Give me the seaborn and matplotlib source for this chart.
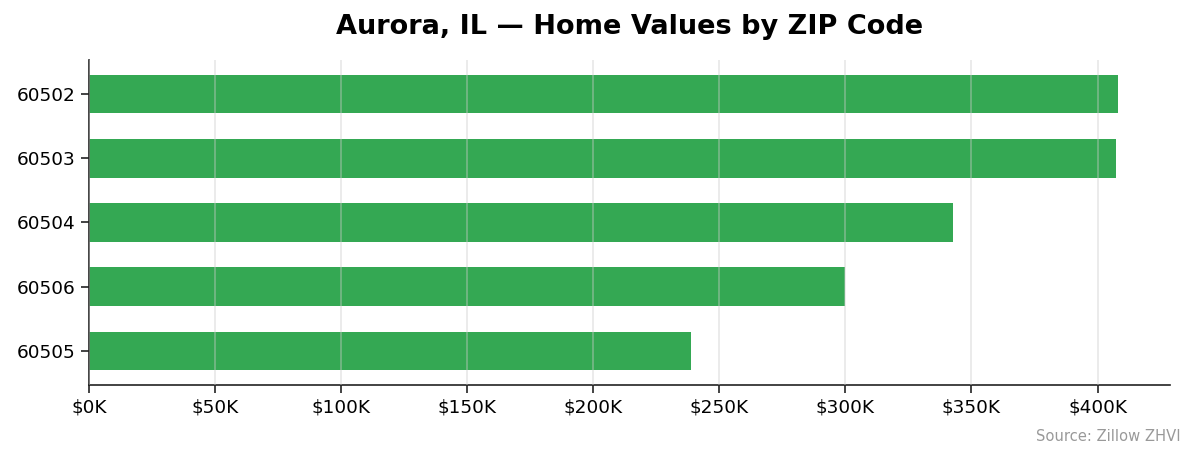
import matplotlib
matplotlib.use("Agg")
import matplotlib.pyplot as plt
import seaborn as sns
import pandas as pd
from matplotlib.ticker import FuncFormatter

# ZIP codes and typical home values (dollars)
zips = ["60502", "60503", "60504", "60506", "60505"]
values = [408300, 407500, 342500, 300000, 238900]

df = pd.DataFrame({"zip": zips, "value": values})

sns.set_style("ticks")
plt.rcParams["font.family"] = ["DejaVu Sans"]

fig, ax = plt.subplots(figsize=(11.95, 4.55), dpi=100)
sns.barplot(data=df, x="value", y="zip", orient="h", color="#34a853",
            saturation=1, width=0.6, linewidth=0, ax=ax)

ax.xaxis.set_major_formatter(FuncFormatter(lambda v, p: f"${v/1000:.0f}K"))
ax.set_xticks(range(0, 400001, 50000))
ax.set_ylim(4.53, -0.53)
ax.set_xlabel("")
ax.set_ylabel("")
ax.set_title("Aurora, IL \u2014 Home Values by ZIP Code", fontsize=19.5,
             fontweight="bold", pad=19, color="black")
ax.tick_params(axis="both", labelsize=13.3, length=6, width=1.2,
               color="#222222", labelcolor="black")
ax.set_axisbelow(False)
ax.grid(axis="x", color="#cccccc", alpha=0.45, linewidth=1.2)
sns.despine(ax=ax)
for s in ["left", "bottom"]:
    ax.spines[s].set_color("#222222")
    ax.spines[s].set_linewidth(1.2)

fig.text(0.988, 0.025, "Source: Zillow ZHVI", ha="right", va="bottom",
         fontsize=10.6, color="#999999")

plt.subplots_adjust(left=0.0745, right=0.979, top=0.868, bottom=0.154)
fig.savefig("out.png", dpi=100)
